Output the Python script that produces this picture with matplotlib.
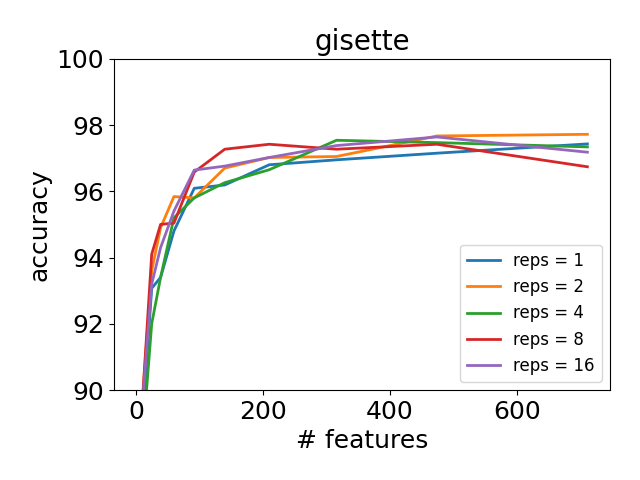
from matplotlib import pyplot as plt

N_FEATURES = [1, 25, 39, 60, 92, 140, 210, 316, 474, 711]

ACC_REPS_1 = [86.4, 93.07, 93.4, 94.8, 96.09, 96.19, 96.8, 96.95, 97.15, 97.43]
ACC_REPS_2 = [87.2, 93.6, 94.9, 95.84, 95.8, 96.7, 97.02, 97.05, 97.67, 97.72]
ACC_REPS_4 = [86.1, 92.0, 93.4, 95.2, 95.8, 96.26, 96.65, 97.54, 97.47, 97.34]
ACC_REPS_8 = [86.8, 94.1, 95.0, 95.04, 96.58, 97.27, 97.42, 97.27, 97.42, 96.74]
ACC_REPS_16 = [87.3, 93.2, 94.3, 95.4, 96.64, 96.76, 97.02, 97.38, 97.64, 97.18]

REPS = [1, 2, 4, 8, 16]
SERIES = [ACC_REPS_1, ACC_REPS_2, ACC_REPS_4, ACC_REPS_8, ACC_REPS_16]


def main():
    fig = plt.figure(figsize=(6.4, 4.8), dpi=100)
    ax = fig.add_axes([0.178, 0.1875, 0.775, 0.69])

    for reps, acc in zip(REPS, SERIES):
        ax.plot(N_FEATURES, acc, linewidth=2, label=f"reps = {reps}")

    ax.set_ylim(90, 100)
    ax.set_yticks([90, 92, 94, 96, 98, 100])
    ax.set_xticks([0, 200, 400, 600])
    ax.tick_params(labelsize=18)
    ax.set_title("gisette", fontsize=20)
    ax.set_xlabel("# features", fontsize=18)
    ax.set_ylabel("accuracy", fontsize=18)
    ax.legend(loc="lower right", fontsize=12)

    fig.savefig("out.png", dpi=100)


if __name__ == "__main__":
    main()
